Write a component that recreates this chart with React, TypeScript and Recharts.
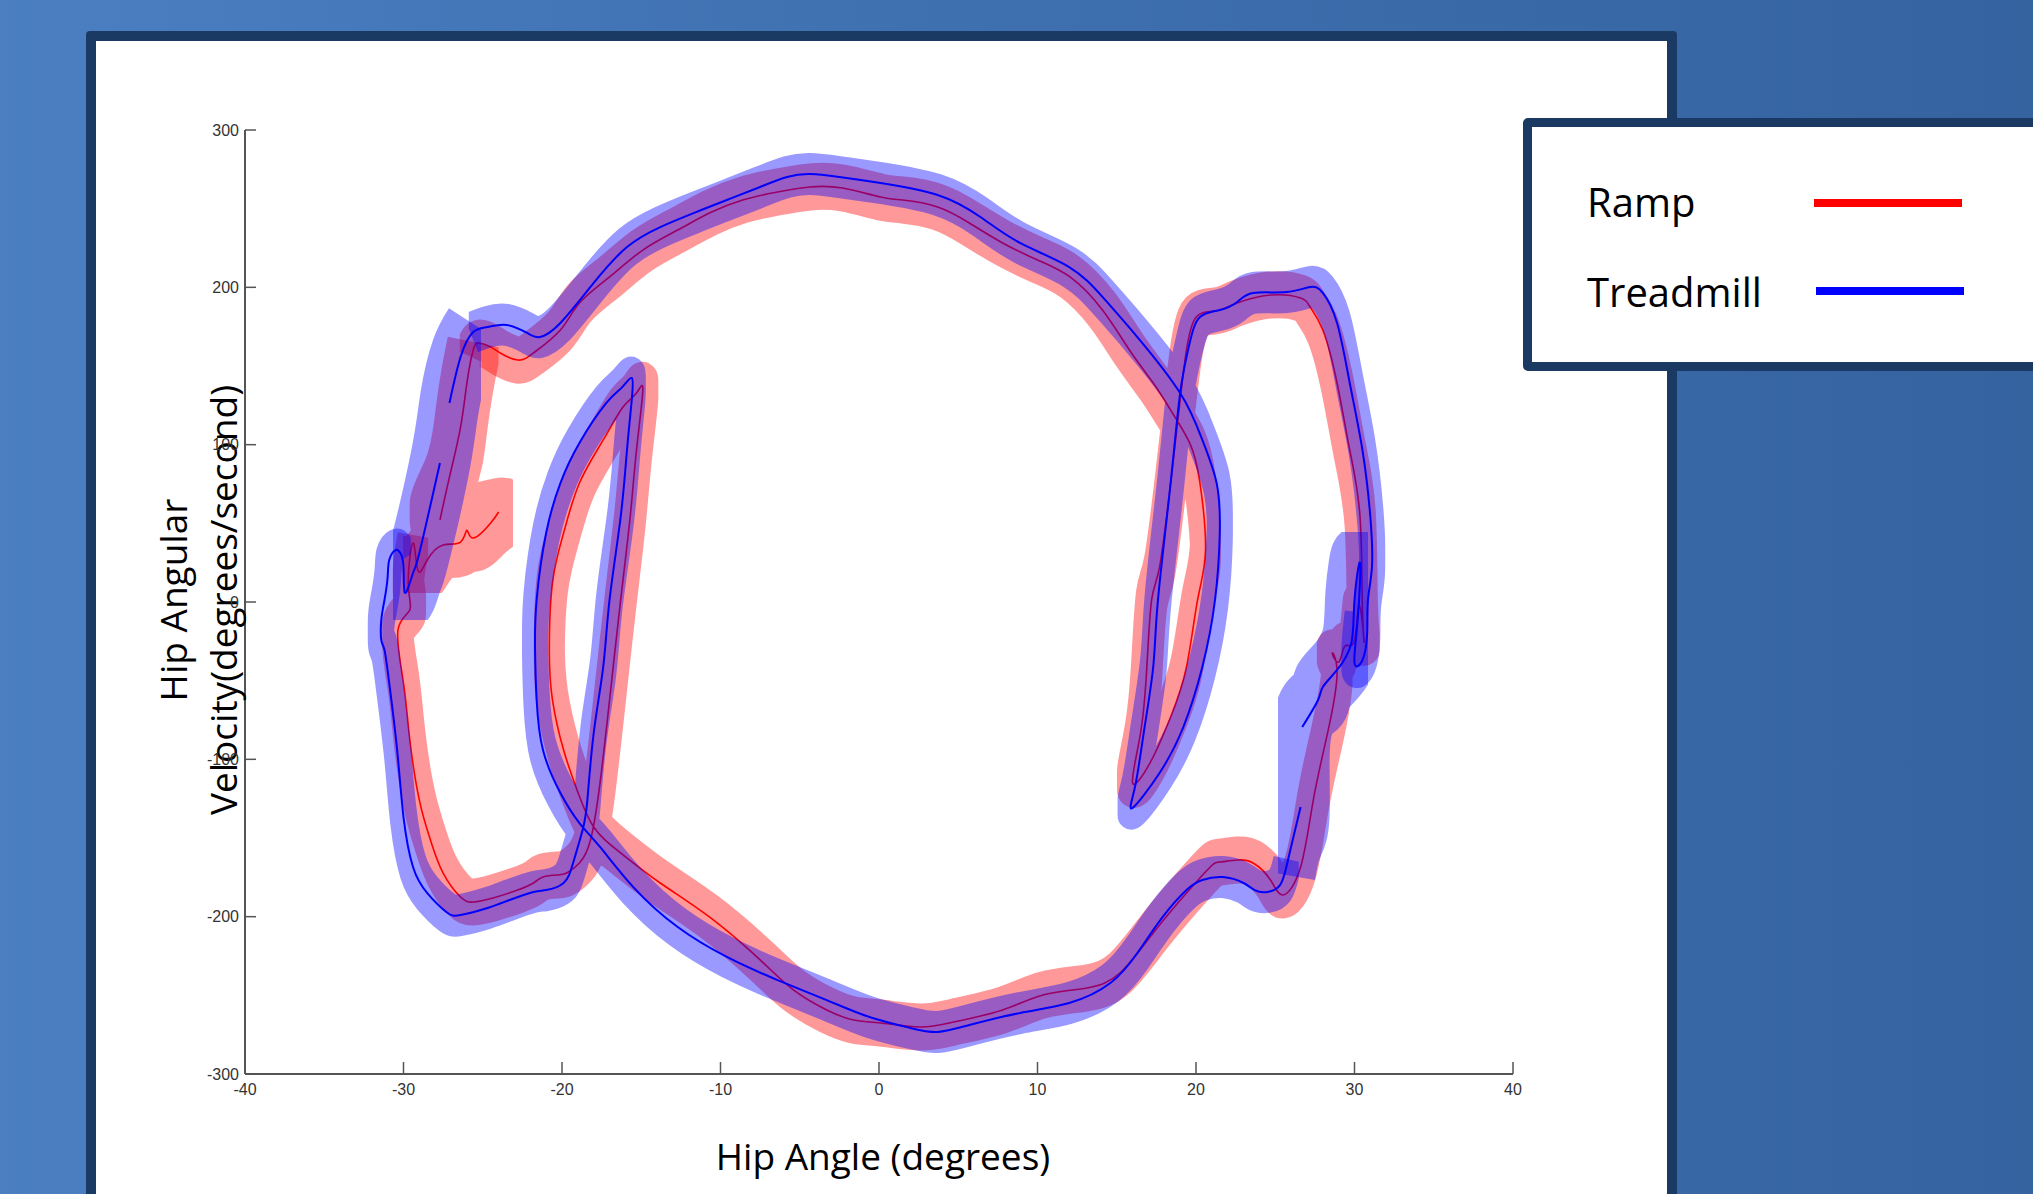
import { LineChart, Line, XAxis, YAxis, Legend } from 'recharts'

// hip angle (deg) vs hip angular velocity (deg/s)
const xTicks = [-40, -30, -20, -10, 0, 10, 20, 30, 40]
const yTicks = [-300, -200, -100, 0, 100, 200, 300]

// Ramp: one trace, starts and ends near the left "C"
const ramp: [number, number][] = [
  [-24.0, 57.2], [-24.5, 50.2], [-25.6, 40.7], [-26.0, 45.8], [-26.4, 38.1], [-27.5, 36.2],
  [-28.5, 26.7], [-29.1, 20.3], [-29.4, 37.5], [-29.7, 12.1], [-29.6, -5.1], [-30.35, -17.8],
  [-30.0, -51.5], [-29.6, -87.7], [-29.0, -125.9], [-28.3, -151.3], [-27.5, -172.3], [-26.4, -187.5],
  [-25.6, -190.7], [-24.35, -188.1], [-22.8, -183.1], [-21.8, -178.6], [-21.2, -174.8], [-20.3, -173.5],
  [-19.7, -172.3], [-18.9, -165.9], [-18.2, -151.3], [-17.6, -115.0], [-17.0, -62.3], [-16.3, 1.3],
  [-15.7, 54.0], [-15.3, 96.6], [-14.9, 134.7], [-15.3, 132.8], [-16.15, 123.9], [-17.4, 103.0],
  [-18.9, 75.6], [-19.9, 43.9], [-20.6, 12.1], [-20.8, -30.5], [-20.6, -62.3], [-19.9, -94.1],
  [-19.05, -119.5], [-18.0, -143.0], [-16.3, -159.5], [-13.8, -178.6], [-10.7, -200.2], [-7.5, -227.5],
  [-5.4, -246.6], [-3.3, -259.3], [-1.6, -265.7], [0.1, -267.6], [2.6, -270.1], [4.7, -267.0],
  [7.8, -259.3], [10.35, -249.8], [13.1, -245.3], [15.2, -235.8], [17.3, -210.4], [19.4, -185.0],
  [20.9, -168.4], [21.5, -165.3], [22.6, -164.0], [23.6, -165.9], [24.7, -176.7], [25.5, -186.2],
  [26.6, -168.4], [27.4, -125.9], [28.3, -83.3], [28.9, -45.1], [28.6, -32.4], [29.0, -38.2],
  [29.4, -28.0], [30.0, -24.2], [30.3, -1.9], [30.6, -24.2], [30.5, -5.1], [30.35, 54.0],
  [29.7, 96.6], [28.9, 139.2], [28.0, 172.9], [27.2, 187.5], [26.6, 193.2], [24.7, 195.1],
  [22.6, 190.0], [21.5, 185.6], [20.4, 183.7], [19.8, 177.3], [19.4, 160.2], [19.0, 128.4],
  [18.4, 75.6], [17.7, 22.2], [17.2, 1.3], [16.9, -41.3], [16.5, -83.3], [16.0, -115.0],
  [17.1, -102.3], [18.4, -73.1], [19.4, -41.3], [20.1, 1.3], [20.6, 33.0], [20.25, 75.6],
  [19.6, 101.1], [18.4, 122.0], [17.3, 139.2], [15.8, 160.2], [14.1, 185.6], [12.05, 206.6],
  [10.0, 217.4], [7.8, 228.2], [5.7, 240.9], [3.7, 251.1], [1.5, 255.5], [0.1, 257.4],
  [-2.3, 263.1], [-4.35, 263.8], [-6.4, 260.6], [-8.6, 255.5], [-10.7, 247.2], [-12.7, 236.4],
  [-14.9, 223.7], [-17.0, 206.6], [-18.9, 190.0], [-20.1, 172.9], [-21.8, 158.3], [-22.8, 153.8],
  [-23.9, 158.3], [-24.5, 162.1], [-25.2, 164.6], [-25.6, 160.2], [-26.0, 139.2], [-26.4, 111.2],
  [-27.1, 79.4], [-27.7, 52.1],
]

// Treadmill, first piece: from the lower right "C" round the bottom to the left "C"
const treadmillA: [number, number][] = [
  [26.6, -130.3], [26.1, -151.3], [25.7, -168.4], [25.3, -179.9], [24.5, -184.3], [23.7, -183.1],
  [23.0, -178.6], [21.7, -174.8], [20.4, -176.7], [19.4, -183.1], [17.9, -200.2], [16.3, -223.1],
  [14.6, -242.2], [12.0, -254.9], [8.9, -261.2], [5.7, -268.9], [3.7, -273.3], [2.0, -270.8],
  [-0.6, -263.8], [-3.3, -253.0], [-6.4, -240.3], [-9.6, -225.6], [-12.7, -206.6], [-15.5, -181.2],
  [-17.6, -155.7], [-18.9, -140.5], [-20.1, -121.4], [-21.2, -94.1], [-21.6, -62.3], [-21.7, -30.5],
  [-21.6, 1.3], [-21.0, 43.9], [-20.1, 75.6], [-18.9, 101.1], [-17.2, 126.5], [-16.2, 136.6],
  [-15.6, 142.4], [-15.6, 128.4], [-15.9, 96.6], [-16.3, 54.0], [-17.0, 1.3], [-17.4, -41.3],
  [-18.0, -83.3], [-18.4, -125.9], [-18.7, -144.9], [-19.3, -165.9], [-19.9, -178.6], [-21.0, -183.1],
  [-21.8, -184.3], [-23.3, -189.4], [-24.7, -194.5], [-26.4, -199.0], [-27.3, -197.0], [-28.5, -185.0],
  [-29.4, -168.4], [-30.0, -136.7], [-30.4, -94.1], [-30.9, -51.5], [-31.2, -30.5], [-31.4, -24.2],
  [-31.4, -11.4], [-31.2, 1.3], [-31.0, 15.9], [-30.9, 26.7], [-30.5, 33.0], [-30.2, 31.1],
  [-30.0, 22.2], [-29.9, 5.7], [-29.4, 18.4], [-29.0, 31.1], [-27.7, 88.4],
]

// Treadmill, second piece: from the left "C" over the top to the right side
const treadmillB: [number, number][] = [
  [-27.1, 126.5], [-26.4, 155.7], [-25.6, 171.6], [-24.7, 174.8], [-23.5, 176.1], [-22.2, 171.0],
  [-21.4, 168.4], [-20.1, 177.3], [-18.0, 202.8], [-15.9, 225.6], [-13.8, 238.3], [-11.7, 247.2],
  [-9.6, 255.5], [-7.5, 263.8], [-5.8, 270.1], [-4.35, 272.0], [-2.5, 270.1], [0.1, 266.3],
  [3.7, 258.7], [6.4, 244.7], [8.9, 228.2], [12.0, 212.9], [14.1, 193.9], [16.3, 168.4],
  [19.0, 132.8], [20.4, 103.0], [21.3, 75.6], [21.5, 43.9], [21.2, 1.3], [20.4, -41.3],
  [19.2, -79.5], [17.7, -108.7], [16.0, -130.9], [16.15, -117.6], [16.7, -83.3], [17.3, -41.3],
  [17.6, 1.3], [18.4, 75.6], [19.0, 132.8], [19.6, 164.6], [20.25, 181.1], [21.5, 185.6],
  [22.6, 190.7], [23.6, 196.4], [25.7, 197.0], [27.2, 200.2], [28.0, 196.4], [28.9, 177.3],
  [29.7, 139.2], [30.5, 96.6], [31.0, 54.0], [31.1, 22.2], [30.85, 1.3], [30.8, -19.7],
  [30.5, -36.9], [30.0, -38.8], [30.2, -11.4], [30.35, 24.8], [30.0, 1.3], [29.8, -26.1],
  [28.9, -43.2], [28.0, -54.0], [27.7, -62.3], [26.7, -79.5],
]

const toRows = (pts: [number, number][]) => pts.map(([x, y]) => ({ x, y }))

const rampLine = toRows(ramp)
// shaded spread: narrow along most of the loop, wider where the traces start and end
const rampBand = toRows(ramp.slice(8, -4))
const rampWide = toRows([...ramp.slice(-5), ...ramp.slice(0, 9)])
const treadLineA = toRows(treadmillA)
const treadLineB = toRows(treadmillB)
const treadBandA = toRows(treadmillA.slice(2, -5))
const treadBandB = toRows(treadmillB.slice(2, -7))
const treadWideLeft = toRows([...treadmillA.slice(-6), ...treadmillB.slice(0, 3)])
const treadWideRight = toRows([...treadmillB.slice(-8), ...treadmillA.slice(0, 3)])

const NAVY = '#1b3a63'

const renderLegend = (props: any) => {
  const items = (props.payload || []).filter((p: any) => p.type !== 'none')
  return (
    <div
      style={{
        width: 540,
        height: 253,
        boxSizing: 'border-box',
        border: `9px solid ${NAVY}`,
        borderRadius: 5,
        background: '#fff',
      }}
    >
      <svg width={531} height={235}>
        {items.map((p: any, i: number) => (
          <g key={p.value}>
            <text x={55} y={90 + i * 90} fontSize={40} fontFamily="Open Sans" fill="#000">
              {p.value}
            </text>
            <line x1={282 + i * 2} x2={430 + i * 2} y1={76 + i * 88} y2={76 + i * 88} stroke={p.color} strokeWidth={8} />
          </g>
        ))}
      </svg>
    </div>
  )
}

const yTitle = () => (
  <g fontFamily="Open Sans" fontSize={37} fill="#000">
    <text transform="translate(187,600) rotate(-90)" textAnchor="middle">Hip Angular</text>
    <text transform="translate(237,600) rotate(-90)" textAnchor="middle">Velocity(degrees/second)</text>
  </g>
)

const xTitle = () => (
  <text x={883} y={1170} textAnchor="middle" fontFamily="Open Sans" fontSize={37} fill="#000">
    Hip Angle (degrees)
  </text>
)

const tickStyle = { fill: '#333', fontSize: 16, fontFamily: 'Liberation Sans' }

const bandProps = {
  dataKey: 'y',
  className: 'band-spread',
  type: 'natural' as const,
  strokeOpacity: 0.4,
  strokeLinejoin: 'round' as const,
  strokeLinecap: 'butt' as const,
  dot: false,
  activeDot: false,
  legendType: 'none' as const,
  isAnimationActive: false,
}

export default function App() {
  return (
    <div
      style={{
        position: 'fixed',
        left: 0,
        top: 0,
        width: 2033,
        height: 1194,
        overflow: 'hidden',
        background: 'linear-gradient(90deg, #4a7fc2 0%, #3f70b0 45%, #3563a0 100%)',
      }}
    >
      <style>{`.band-spread path { filter: url(#bandSpread); }`}</style>
      <svg width={0} height={0} style={{ position: 'absolute' }}>
        <defs>
          <filter id="bandSpread" x="-10%" y="-10%" width="120%" height="120%">
            <feMorphology operator="dilate" radius="0 8" />
          </filter>
        </defs>
      </svg>
      <div
        style={{
          position: 'absolute',
          left: 86,
          top: 31,
          width: 1591,
          height: 1200,
          boxSizing: 'border-box',
          border: `10px solid ${NAVY}`,
          borderRadius: 4,
          background: '#fff',
        }}
      />
      <div style={{ position: 'absolute', left: 0, top: 0 }}>
        <LineChart width={2033} height={1194} margin={{ top: 130, right: 520, bottom: 80, left: 185 }}>
          <XAxis
            type="number"
            dataKey="x"
            domain={[-40, 40]}
            ticks={xTicks}
            allowDataOverflow
            height={40}
            stroke="#555"
            axisLine={{ stroke: '#555', strokeWidth: 2 }}
            tickLine={{ stroke: '#555', strokeWidth: 1.5 }}
            tickSize={-12}
            tickMargin={22}
            tick={tickStyle}
            label={{ content: xTitle }}
          />
          <YAxis
            type="number"
            dataKey="y"
            domain={[-300, 300]}
            ticks={yTicks}
            allowDataOverflow
            width={60}
            stroke="#555"
            axisLine={{ stroke: '#555', strokeWidth: 2 }}
            tickLine={{ stroke: '#555', strokeWidth: 1.5 }}
            tickSize={-11}
            tickMargin={17}
            tick={tickStyle}
            label={{ content: yTitle }}
          />
          <Line {...bandProps} data={rampBand} stroke="#ff0000" strokeWidth={31} />
          <Line {...bandProps} data={rampWide} stroke="#ff0000" strokeWidth={52} />
          <Line
            data={rampLine}
            dataKey="y"
            name="Ramp"
            type="natural"
            stroke="#ff0000"
            strokeWidth={1.6}
            dot={false}
            activeDot={false}
            isAnimationActive={false}
          />
          <Line {...bandProps} data={treadBandA} stroke="#0000ff" strokeWidth={26} />
          <Line {...bandProps} data={treadBandB} stroke="#0000ff" strokeWidth={26} />
          <Line {...bandProps} data={treadWideLeft} stroke="#0000ff" strokeWidth={58} />
          <Line {...bandProps} data={treadWideRight} stroke="#0000ff" strokeWidth={58} />
          <Line
            data={treadLineA}
            dataKey="y"
            name="Treadmill"
            type="natural"
            stroke="#0000ff"
            strokeWidth={2}
            dot={false}
            activeDot={false}
            isAnimationActive={false}
          />
          <Line
            data={treadLineB}
            dataKey="y"
            type="natural"
            stroke="#0000ff"
            strokeWidth={2}
            dot={false}
            activeDot={false}
            legendType="none"
            isAnimationActive={false}
          />
          <Legend
            layout="horizontal"
            verticalAlign="middle"
            align="center"
            content={renderLegend}
            wrapperStyle={{ left: 1523, top: 118, width: 540, height: 253 }}
          />
        </LineChart>
      </div>
    </div>
  )
}
